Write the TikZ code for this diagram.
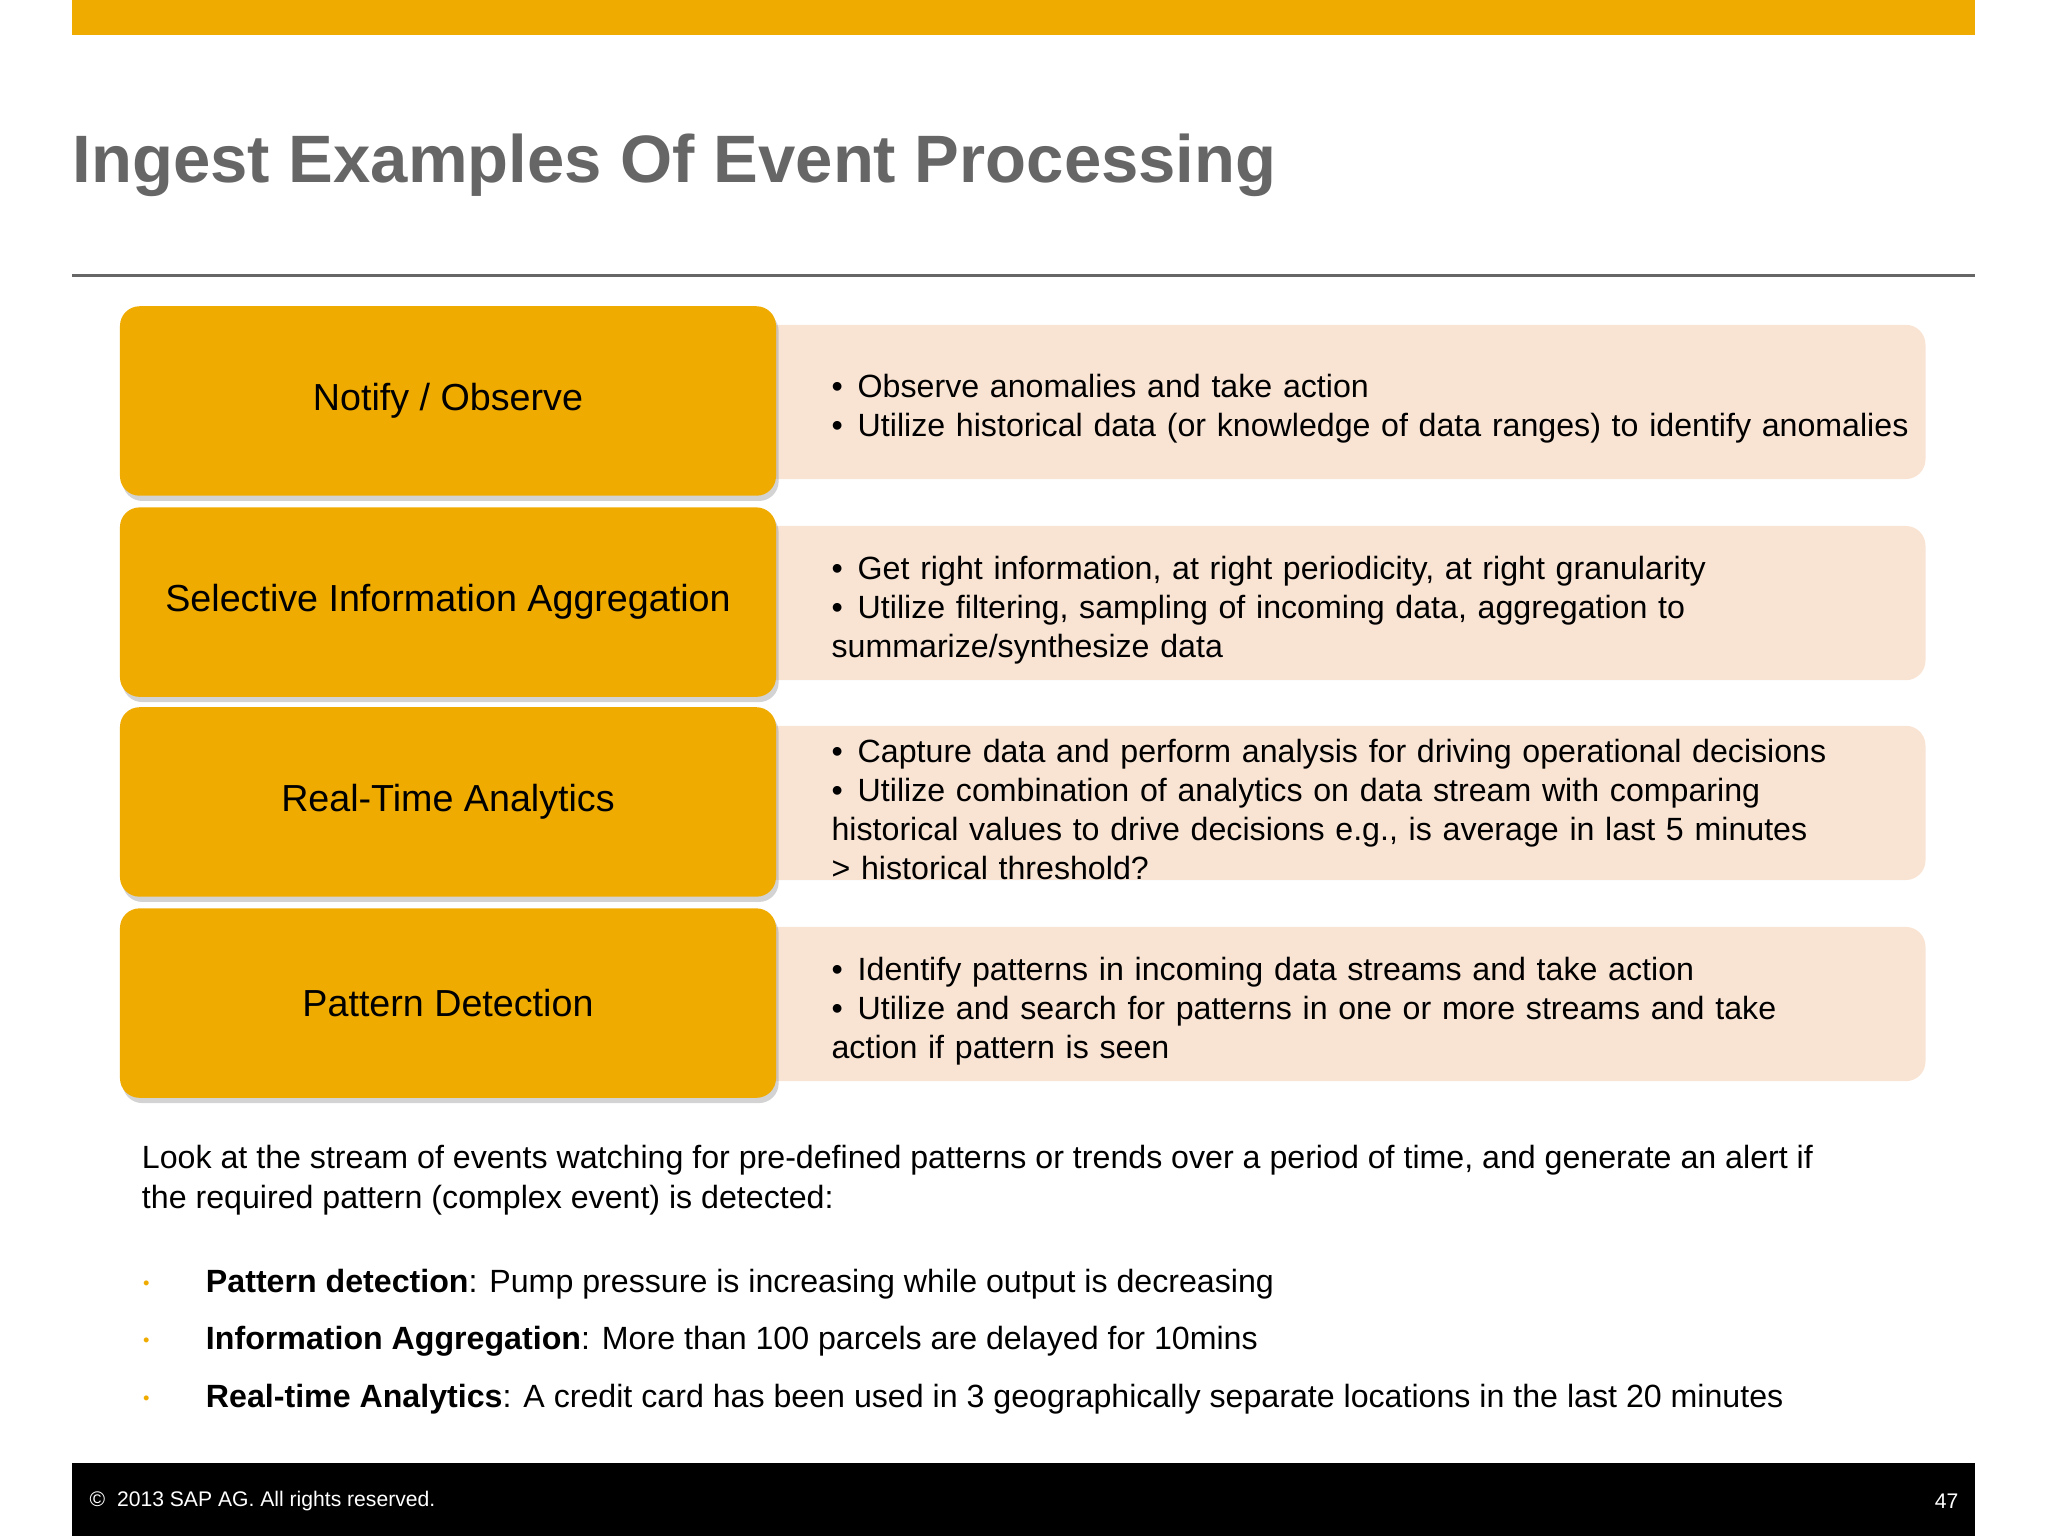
\documentclass[tikz,border=0pt]{standalone}
\usepackage{fontspec}
\setmainfont{Liberation Sans}
\usetikzlibrary{positioning,shadows}
\definecolor{sapgold}{HTML}{F0AB00}
\definecolor{peach}{HTML}{F9E4D4}
\definecolor{titlegray}{HTML}{666666}
\newcommand{\bitem}[1]{\par\hangindent=0.2cm\hangafter=1\makebox[0.2cm][l]{\textbullet}#1}
\tikzset{
  goldbox/.style={fill=sapgold, rounded corners=0.15cm, minimum width=5.02cm, minimum height=1.45cm,
    drop shadow={shadow xshift=0.02cm, shadow yshift=-0.04cm, opacity=0.35},
    font=\fontsize{8.2}{10}\selectfont, text=black},
  peachbox/.style={fill=peach, rounded corners=0.15cm, anchor=north west, minimum width=8.93cm, minimum height=1.18cm},
  bullets/.style={anchor=west, align=left, text width=8.4cm, inner sep=0pt, font=\fontsize{7}{8.5}\selectfont},
  lowline/.style={anchor=west, inner sep=0pt, font=\fontsize{7}{8.5}\selectfont}
}
\begin{document}
\begin{tikzpicture}[x=0.01cm,y=-0.01cm]
		\useasboundingbox (0,0) rectangle (1568,1176);
		\fill[sapgold] (55,0) rectangle (1512,27);
		\node[anchor=base west, inner sep=0pt, text=titlegray, font=\fontsize{14.6}{16}\selectfont\bfseries] (title) at (55,140) {Ingest Examples Of Event Processing};
		\draw[titlegray, line width=0.6pt] (55,211) -- (1512,211);
		
		% right hand panels
		\node[peachbox] (p1) at (580,248) {};
		\node[peachbox] (p2) at (580,402) {};
		\node[peachbox] (p3) at (580,555) {};
		\node[peachbox] (p4) at (580,709) {};
		
		% left hand boxes
		\node[goldbox] (b1) at (343,307) {Notify / Observe};
		\node[goldbox] (b2) at (343,461) {Selective Information Aggregation};
		\node[goldbox] (b3) at (343,614) {Real-Time Analytics};
		\node[goldbox] (b4) at (343,768) {Pattern Detection};
		
		\node[bullets] (t1) at (636,307) {\bitem{Observe anomalies and take action}\bitem{Utilize historical data (or knowledge of data ranges) to identify anomalies}};
		\node[bullets] (t2) at (636,461) {\bitem{Get right information, at right periodicity, at right granularity}\bitem{Utilize filtering, sampling of incoming data, aggregation to\\ summarize/synthesize data}};
		\node[bullets] (t3) at (636,614) {\bitem{Capture data and perform analysis for driving operational decisions}\bitem{Utilize combination of analytics on data stream with comparing\\ historical values to drive decisions e.g., is average in last 5 minutes\\ \textgreater{} historical threshold?}};
		\node[bullets] (t4) at (636,768) {\bitem{Identify patterns in incoming data streams and take action}\bitem{Utilize and search for patterns in one or more streams and take\\ action if pattern is seen}};
		
		\node[anchor=north west, align=left, inner sep=0pt, font=\fontsize{7}{8.7}\selectfont] (intro) at (108,876) {Look at the stream of events watching for pre-defined patterns or trends over a period of time, and generate an alert if\\ the required pattern (complex event) is detected:};
		
		\foreach \yy in {984,1028,1072} \node[text=sapgold, font=\fontsize{4}{5}\selectfont, inner sep=0pt] at (112,\yy) {\textbullet};
		\node[lowline] (e1) at (157,983) {\textbf{Pattern detection}: Pump pressure is increasing while output is decreasing};
		\node[lowline] (e2) at (157,1027) {\textbf{Information Aggregation}: More than 100 parcels are delayed for 10mins};
		\node[lowline] (e3) at (157,1071) {\textbf{Real-time Analytics}: A credit card has been used in 3 geographically separate locations in the last 20 minutes};
		
		\fill[black] (55,1120) rectangle (1512,1176);
		\node[lowline, text=white, font=\fontsize{4.6}{6}\selectfont] (copy) at (68,1149) {\copyright\ \ 2013 SAP AG. All rights reserved.};
		\node[text=white, inner sep=0pt, font=\fontsize{4.6}{6}\selectfont, anchor=east] (page) at (1500,1149) {47};
	\end{tikzpicture}
\end{document}
